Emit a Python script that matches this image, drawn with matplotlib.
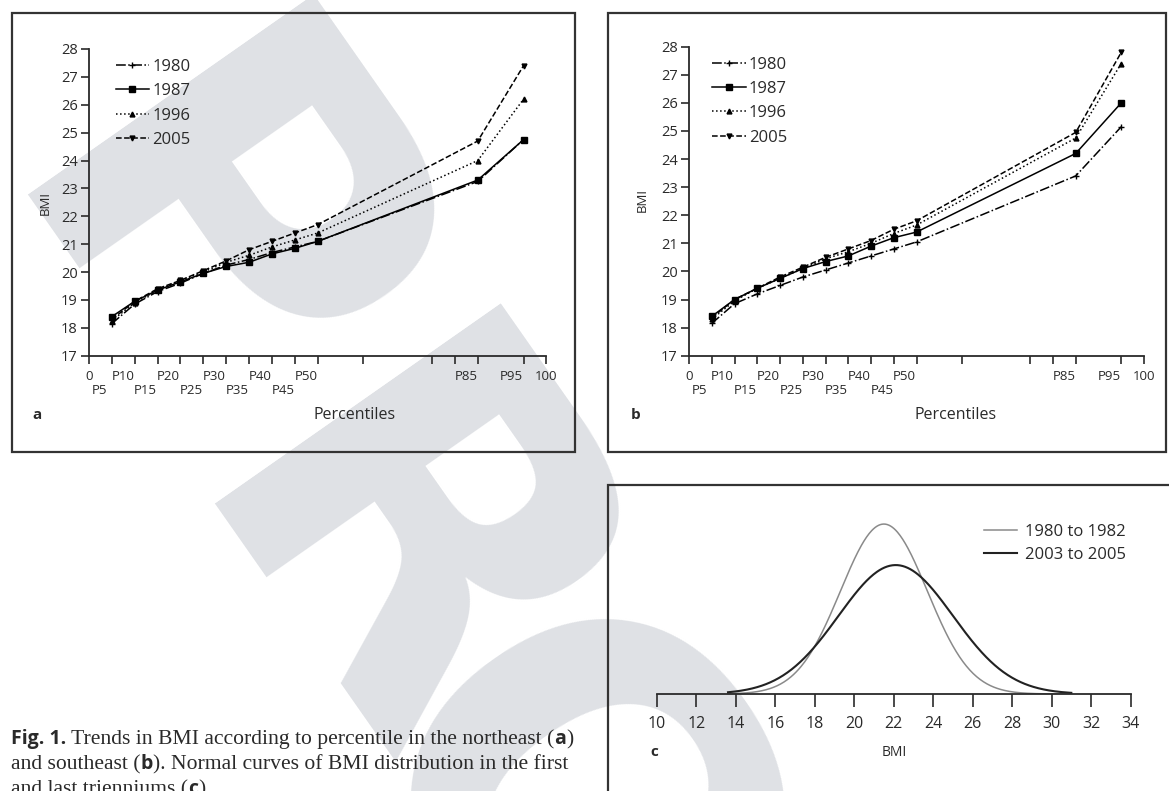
import numpy as np
import matplotlib
matplotlib.use("Agg")
import matplotlib.pyplot as plt
from matplotlib.patches import Rectangle

# 数据
percentiles = [5, 10, 15, 20, 25, 30, 35, 40, 45, 50, 85, 95]
years = ["1980", "1987", "1996", "2005"]

# a: northeast
ne_1980 = [18.15, 18.85, 19.30, 19.60, 19.95, 20.25, 20.45, 20.70, 20.90, 21.10, 23.25, 24.75]
ne_1987 = [18.40, 18.95, 19.35, 19.65, 19.95, 20.20, 20.35, 20.65, 20.85, 21.10, 23.30, 24.75]
ne_1996 = [18.25, 18.90, 19.35, 19.70, 20.00, 20.35, 20.60, 20.90, 21.15, 21.40, 24.00, 26.20]
ne_2005 = [18.30, 18.95, 19.40, 19.70, 20.05, 20.40, 20.80, 21.10, 21.40, 21.70, 24.70, 27.40]

# b: southeast
se_1980 = [18.15, 18.85, 19.20, 19.50, 19.80, 20.05, 20.30, 20.55, 20.80, 21.05, 23.40, 25.15]
se_1987 = [18.40, 19.00, 19.40, 19.75, 20.10, 20.35, 20.55, 20.90, 21.20, 21.40, 24.20, 26.00]
se_1996 = [18.30, 18.95, 19.40, 19.75, 20.10, 20.45, 20.70, 21.00, 21.35, 21.65, 24.75, 27.40]
se_2005 = [18.35, 19.00, 19.40, 19.80, 20.15, 20.50, 20.80, 21.10, 21.50, 21.80, 24.95, 27.80]

x_ticks = [0, 5, 10, 15, 20, 25, 30, 35, 40, 45, 50, 60, 75, 80, 85, 95, 100]
labels_row1 = ["0", "P10", "P20", "P30", "P40", "P50", "P85", "P95", "100"]
labels_row2 = ["P5", "P15", "P25", "P35", "P45"]
y_ticks = list(range(17, 29))

# c: normal curves (mean, sd)
c_names = ["1980 to 1982", "2003 to 2005"]
c_mean = [21.5, 22.1]
c_sd = [2.2, 2.9]
c_ticks = list(range(10, 35, 2))

W, H = 1169, 791
SANS = ["Open Sans", "DejaVu Sans"]
SERIF = ["Liberation Serif", "DejaVu Serif"]
INK = "#2a2a2a"

plt.rcParams["font.family"] = SANS

fig = plt.figure(figsize=(W / 100, H / 100), dpi=100)


def fx(x):
    return x / W


def fy(y):
    return 1 - y / H


def box(x0, y0, x1, y1):
    fig.add_artist(Rectangle((fx(x0), fy(y1)), fx(x1 - x0), (y1 - y0) / H,
                             transform=fig.transFigure, fill=False,
                             edgecolor="#333333", lw=1.6, zorder=1))


# 水印 "PRO"
for ch, (cx, cy) in zip("PRO", [(192, 262), (384, 578), (552, 848)]):
    fig.text(fx(cx), fy(cy), ch, fontsize=345, fontweight="bold",
             family="DejaVu Sans", color="#dfe1e5", rotation=-55,
             rotation_mode="anchor", ha="center", va="center", zorder=-5)

styles = {
    "1980": dict(ls="-.", marker="+", ms=5),
    "1987": dict(ls="-", marker="s", ms=4),
    "1996": dict(ls=":", marker="^", ms=3.5),
    "2005": dict(ls="--", marker="v", ms=3.5),
}


def pct_panel(rect, series, letter, letter_xy, xlabel_xy, ylabel_xy, leg_anchor):
    ax = fig.add_axes(rect)
    ax.set_facecolor("none")
    for yr, vals in zip(years, series):
        ax.plot(percentiles, vals, color="black", lw=1.1, clip_on=False,
                label=yr, **styles[yr])
    ax.set_xlim(0, 100)
    ax.set_ylim(17, 28)
    ax.set_xticks(x_ticks)
    ax.set_xticklabels([])
    ax.set_yticks(y_ticks)
    ax.tick_params(axis="both", direction="out", length=6, width=1.2,
                   colors=INK, labelsize=10.5, pad=2)
    for s in ["top", "right"]:
        ax.spines[s].set_visible(False)
    for s in ["left", "bottom"]:
        ax.spines[s].set_linewidth(1.3)
        ax.spines[s].set_color(INK)
    # 百分位标签 (两行错开)
    for row, labs in ((-15, labels_row1), (-25, labels_row2)):
        for lab in labs:
            xv = float(lab[1:]) - 2.6 if lab.startswith("P") else float(lab)
            ax.annotate(lab, xy=(xv, 0), xycoords=("data", "axes fraction"),
                        xytext=(0, row), textcoords="offset points",
                        ha="center", va="center", fontsize=9.5, color=INK)
    ax.legend(loc="upper left", bbox_to_anchor=leg_anchor, frameon=False,
              fontsize=12, handlelength=2.0, handletextpad=0.2,
              labelspacing=0.5, borderpad=0, labelcolor=INK)
    fig.text(fx(letter_xy[0]), fy(letter_xy[1]), letter, fontsize=11,
             fontweight="bold", ha="center", va="center", color=INK)
    fig.text(fx(xlabel_xy[0]), fy(xlabel_xy[1]), "Percentiles", fontsize=11.5,
             ha="center", va="center", color=INK)
    fig.text(fx(ylabel_xy[0]), fy(ylabel_xy[1]), "BMI", fontsize=9.5,
             rotation=90, ha="center", va="center", color=INK)
    return ax


# 面板 a
box(12, 13, 575, 452)
pct_panel([fx(88.9), fy(355.7), 457.5 / W, 306.7 / H],
          [ne_1980, ne_1987, ne_1996, ne_2005], "a",
          (37, 415), (355, 415), (45, 203), (0.04, 0.995))

# 面板 b
box(608, 13, 1166, 452)
pct_panel([fx(689), fy(355.7), 455 / W, 309 / H],
          [se_1980, se_1987, se_1996, se_2005], "b",
          (636, 415), (956, 415), (642, 200), (0.033, 0.995))

# 面板 c
box(608, 485, 1200, 820)
axc = fig.add_axes([fx(657), fy(694), 473.5 / W, 194 / H])
axc.set_facecolor("none")
xs = np.linspace(13.6, 31, 400)
for name, m, sd, col, lw in zip(c_names, c_mean, c_sd, ["#8a8a8a", "#222222"], [1.1, 1.5]):
    pdf = np.exp(-0.5 * ((xs - m) / sd) ** 2) / (sd * np.sqrt(2 * np.pi))
    axc.plot(xs, pdf, color=col, lw=lw, label=name)
axc.set_xlim(10, 34)
axc.set_ylim(0, 0.207)
axc.set_xticks(c_ticks)
axc.set_yticks([])
for s in ["top", "right", "left"]:
    axc.spines[s].set_visible(False)
axc.spines["bottom"].set_linewidth(1.3)
axc.spines["bottom"].set_color(INK)
axc.tick_params(axis="x", direction="out", length=9, width=1.2, colors=INK,
                labelsize=11.5, pad=7)
axc.legend(loc="upper left", bbox_to_anchor=(0.672, 0.92), frameon=False,
           fontsize=12, handlelength=2.0, handletextpad=0.5, labelspacing=0.4,
           borderpad=0, labelcolor=INK)
fig.text(fx(654), fy(752), "c", fontsize=11, fontweight="bold", ha="center",
         va="center", color=INK)
fig.text(fx(894), fy(752), "BMI", fontsize=10, ha="center", va="center", color=INK)

# 图注
caption = [
    [("Fig. 1.", True), (" Trends in BMI according to percentile in the northeast (", False),
     ("a", True), (")", False)],
    [("and southeast (", False), ("b", True),
     ("). Normal curves of BMI distribution in the first", False)],
    [("and last trienniums (", False), ("c", True), (").", False)],
]
renderer = fig.canvas.get_renderer()
for i, parts in enumerate(caption):
    x = 11
    ybase = 744 + i * 25
    for txt, bold in parts:
        t = fig.text(fx(x), fy(ybase), txt, fontsize=15.6 if not bold else 14,
                     va="baseline", family=SANS if bold else SERIF,
                     fontweight="bold" if bold else "normal", color=INK)
        x = t.get_window_extent(renderer).x1

fig.savefig("out.png", dpi=100)
